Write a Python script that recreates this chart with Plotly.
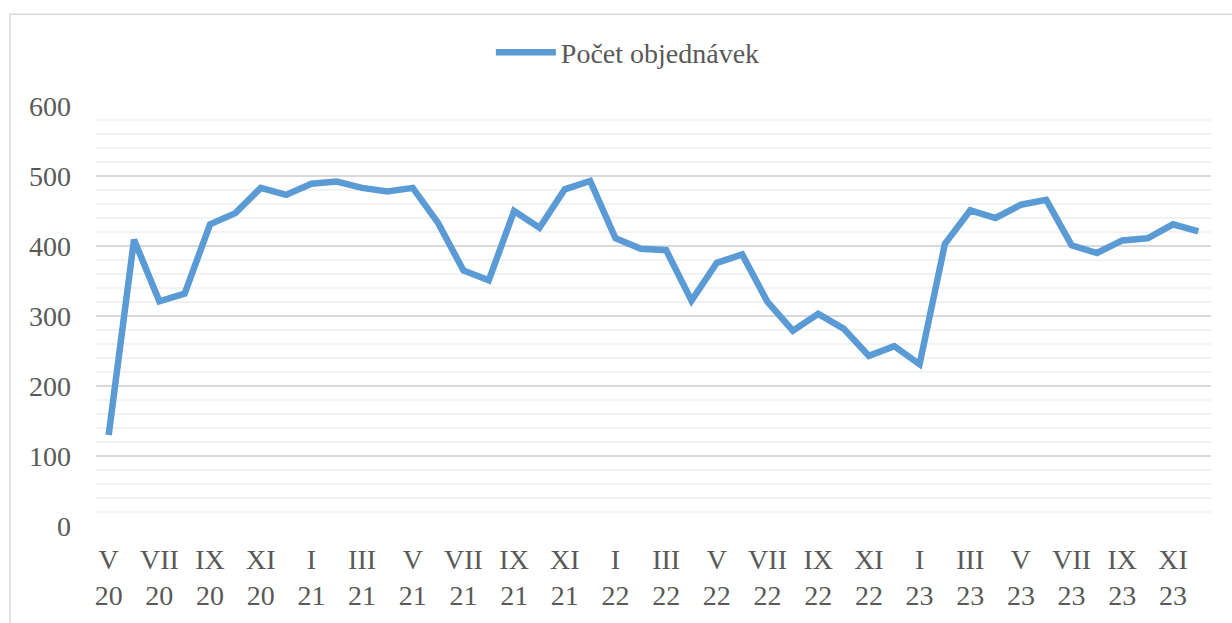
import plotly.graph_objects as go

# Months May 2020 .. Dec 2023
month_names = ["I", "II", "III", "IV", "V", "VI", "VII", "VIII", "IX", "X", "XI", "XII"]
start_year, start_month, n_points = 2020, 5, 44

orders = [130, 409, 321, 332, 431, 447, 483, 473, 489, 492, 483, 478,
          483, 433, 365, 351, 450, 426, 481, 493, 411, 396, 394, 322,
          376, 388, 320, 279, 303, 282, 243, 257, 231, 403, 451, 440,
          459, 466, 401, 390, 408, 411, 431, 421]

categories = []
for i in range(n_points):
    m = (start_month - 1 + i) % 12
    y = start_year + (start_month - 1 + i) // 12
    categories.append(f"{month_names[m]}<br>{y % 100:02d}")

x_idx = list(range(n_points))
tick_idx = x_idx[::2]
tick_text = [categories[i] for i in tick_idx]

FONT = "Liberation Serif"
GRAY = "#595959"

fig = go.Figure()
fig.add_trace(go.Scatter(
    x=x_idx, y=orders, mode="lines", name="Počet objednávek",
    line=dict(color="#5b9bd5", width=6.5),
))

fig.update_layout(
    width=1232, height=623, autosize=False,
    margin=dict(l=96, r=21, t=106, b=91),
    paper_bgcolor="white", plot_bgcolor="white",
    font=dict(family=FONT, size=28, color=GRAY),
    showlegend=True,
    legend=dict(orientation="h", x=0.477, y=1.127, xanchor="center", yanchor="middle",
                font=dict(family=FONT, size=28, color=GRAY), itemwidth=60,
                bgcolor="rgba(0,0,0,0)"),
    xaxis=dict(range=[-0.5, n_points - 0.5], tickvals=tick_idx, ticktext=tick_text,
               showgrid=False, zeroline=False, showline=False, ticks="",
               ticklabelstandoff=14, tickfont=dict(family=FONT, size=28, color=GRAY)),
    yaxis=dict(range=[0, 600], dtick=100, showgrid=True, gridcolor="#d9d9d9", gridwidth=1.5,
               zeroline=False, showline=False, ticks="", ticklabelstandoff=24,
               tickfont=dict(family=FONT, size=28, color=GRAY),
               minor=dict(dtick=20, showgrid=True, gridcolor="#f2f2f2", gridwidth=1.5)),
    shapes=[dict(type="rect", xref="paper", yref="paper",
                 x0=(10 - 96) / 1116, x1=(1250 - 96) / 1116,
                 y0=(532 - 660) / 426, y1=(532 - 13) / 426,
                 line=dict(color="#d9d9d9", width=1.5), layer="below")],
)

fig.write_html("out.html", config={"displayModeBar": False},
               post_script="document.body.style.margin='0';document.body.style.overflow='hidden';")
